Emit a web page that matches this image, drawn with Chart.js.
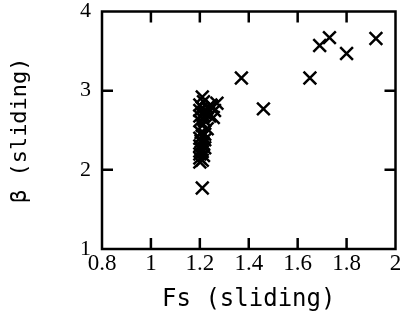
<!DOCTYPE html>
<html lang="en">
<head>
  <meta charset="UTF-8">
  <title>Beta vs Fs (sliding)</title>
  <script src="https://cdn.jsdelivr.net/npm/chart.js"></script>
  <style>
    body { margin: 0; background: #fff; }
    #wrap { width: 407px; height: 321px; }
  </style>
</head>
<body>
<div id="wrap"><canvas id="chart"></canvas></div>
<script>
// values
const fsValues = [1.21, 1.21,
                  1.20, 1.21, 1.20, 1.215, 1.20, 1.21, 1.205, 1.22, 1.20, 1.215, 1.205, 1.22, 1.20, 1.21, 1.22, 1.205,
                  1.21, 1.23, 1.20, 1.215, 1.20, 1.21, 1.22, 1.20, 1.21, 1.20, 1.215,
                  1.22, 1.24, 1.23, 1.26, 1.25, 1.27, 1.235, 1.255, 1.245,
                  1.37, 1.46, 1.65, 1.69, 1.73, 1.80, 1.92];
const betaValues = [1.77, 2.92,
                    2.10, 2.12, 2.15, 2.18, 2.20, 2.23, 2.26, 2.28, 2.30, 2.33, 2.36, 2.38, 2.40, 2.43, 2.45, 2.47,
                    2.56, 2.52, 2.62, 2.64, 2.68, 2.70, 2.72, 2.75, 2.78, 2.82, 2.86,
                    2.62, 2.68, 2.78, 2.75, 2.80, 2.84, 2.72, 2.66, 2.82,
                    3.16, 2.77, 3.16, 3.57, 3.67, 3.47, 3.66];
const xTicks = [0.8, 1, 1.2, 1.4, 1.6, 1.8, 2];
const xTickLabels = ['0.8', '1', '1.2', '1.4', '1.6', '1.8', '2'];
const yTicks = [1, 2, 3, 4];
const yTickLabels = ['1', '2', '3', '4'];

const points = fsValues.map((x, i) => ({ x: x, y: betaValues[i] }));

// frame and inward ticks on all four sides
const frameTicks = {
  id: 'frameTicks',
  afterDraw(chart) {
    const { ctx, chartArea: a, scales } = chart;
    ctx.save();
    ctx.strokeStyle = '#000';
    ctx.lineWidth = 2.5;
    ctx.strokeRect(a.left, a.top, a.right - a.left, a.bottom - a.top);
    ctx.beginPath();
    xTicks.slice(1, -1).forEach(v => {
      const px = scales.x.getPixelForValue(v);
      ctx.moveTo(px, a.bottom); ctx.lineTo(px, a.bottom - 11);
      ctx.moveTo(px, a.top); ctx.lineTo(px, a.top + 11);
    });
    yTicks.slice(1, -1).forEach(v => {
      const py = scales.y.getPixelForValue(v);
      ctx.moveTo(a.left, py); ctx.lineTo(a.left + 11, py);
      ctx.moveTo(a.right, py); ctx.lineTo(a.right - 11, py);
    });
    ctx.stroke();
    ctx.restore();
  }
};

new Chart(document.getElementById('chart'), {
  type: 'scatter',
  data: {
    datasets: [{
      data: points,
      pointStyle: 'crossRot',
      radius: 9,
      hoverRadius: 9,
      borderWidth: 2.5,
      borderColor: '#000',
      backgroundColor: '#000'
    }]
  },
  options: {
    responsive: true,
    maintainAspectRatio: false,
    animation: false,
    layout: { padding: { top: 11, right: 11, bottom: 0, left: 0 } },
    plugins: { legend: { display: false }, tooltip: { enabled: false } },
    scales: {
      x: {
        type: 'linear',
        min: 0.8, max: 2,
        afterBuildTicks: s => { s.ticks = xTicks.map(v => ({ value: v })); },
        afterFit: s => { s.height = 72; s.paddingLeft = 0; s.paddingRight = 0; },
        grid: { display: false, drawTicks: false },
        border: { display: false },
        ticks: {
          padding: 1,
          color: '#000',
          maxRotation: 0,
          autoSkip: false,
          font: { family: 'Liberation Serif', size: 23 },
          callback: (v) => xTickLabels[xTicks.indexOf(v)]
        },
        title: {
          display: true,
          text: 'Fs (sliding)',
          color: '#000',
          font: { family: 'DejaVu Sans Mono', size: 24 },
          padding: { top: 0, bottom: 7 }
        }
      },
      y: {
        type: 'linear',
        min: 1, max: 4,
        afterBuildTicks: s => { s.ticks = yTicks.map(v => ({ value: v })); },
        afterFit: s => { s.width = 102; s.paddingTop = 0; s.paddingBottom = 0; },
        grid: { display: false, drawTicks: false },
        border: { display: false },
        ticks: {
          padding: 11,
          color: '#000',
          autoSkip: false,
          font: { family: 'Liberation Serif', size: 22 },
          callback: (v) => yTickLabels[yTicks.indexOf(v)]
        },
        title: {
          display: true,
          text: 'β (sliding)',
          color: '#000',
          font: { family: 'DejaVu Sans Mono', size: 22 },
          padding: { top: 7, bottom: 0 }
        }
      }
    }
  },
  plugins: [frameTicks]
});
</script>
</body>
</html>
